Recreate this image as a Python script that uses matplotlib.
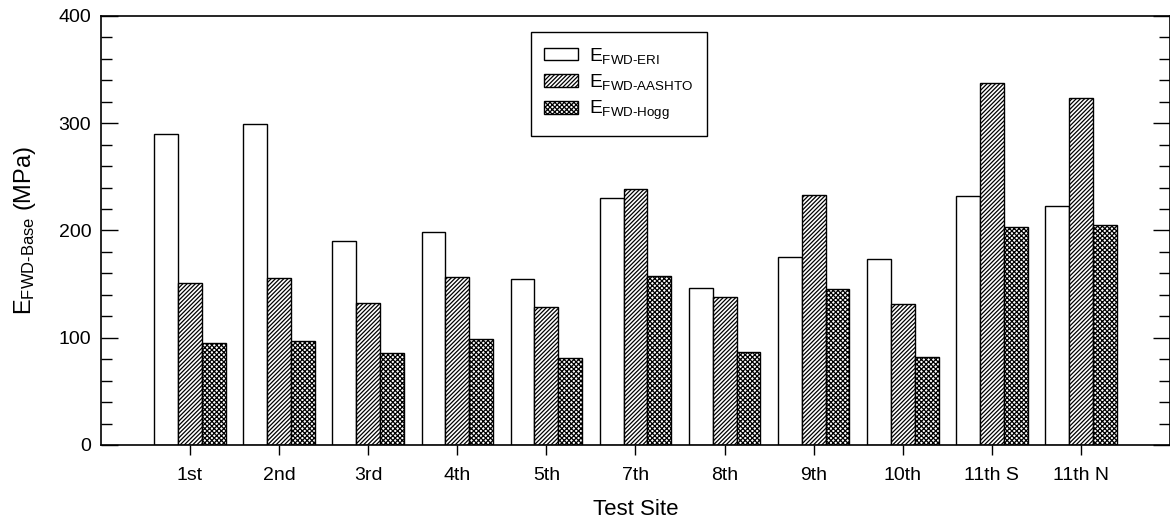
import matplotlib
matplotlib.use("Agg")
import matplotlib.pyplot as plt
from matplotlib.ticker import MultipleLocator
import numpy as np

plt.rcParams['font.family'] = ['Liberation Sans', 'DejaVu Sans']
plt.rcParams['mathtext.fontset'] = 'custom'
plt.rcParams['mathtext.rm'] = 'Liberation Sans'
plt.rcParams['mathtext.it'] = 'Liberation Sans'
plt.rcParams['hatch.linewidth'] = 0.9

# data
sites = ['1st', '2nd', '3rd', '4th', '5th', '7th', '8th', '9th', '10th', '11th S', '11th N']
e_eri = [289.7, 299.0, 190.2, 198.9, 154.8, 230.3, 146.1, 175.6, 173.1, 231.9, 222.5]
e_aashto = [150.8, 155.4, 132.1, 157.0, 128.7, 238.7, 138.0, 232.8, 131.2, 337.5, 323.2]
e_hogg = [94.8, 97.3, 86.1, 98.5, 81.4, 157.6, 86.7, 145.7, 82.3, 203.3, 204.8]

labels = [r'E$_{\text{FWD-ERI}}$', r'E$_{\text{FWD-AASHTO}}$', r'E$_{\text{FWD-Hogg}}$']


def main():
    fig = plt.figure(figsize=(11.7, 5.29), dpi=100)
    ax = fig.add_axes([0.0863, 0.1588, 0.9137, 0.811])

    x = np.arange(1, len(sites) + 1)
    w = 0.268
    ax.bar(x - w, e_eri, w, color='white', edgecolor='black', linewidth=1.0, label=labels[0])
    ax.bar(x, e_aashto, w, color='white', edgecolor='black', linewidth=1.0,
           hatch='////////', label=labels[1])
    ax.bar(x + w, e_hogg, w, color='white', edgecolor='black', linewidth=1.0,
           hatch='xxxxxxx', label=labels[2])

    ax.set_xlim(0, 12)
    ax.set_ylim(0, 400)
    ax.set_xticks(x)
    ax.set_xticklabels(sites, fontsize=14)
    ax.yaxis.set_major_locator(MultipleLocator(100))
    ax.yaxis.set_minor_locator(MultipleLocator(20))
    ax.tick_params(axis='y', which='major', direction='in', length=12, labelsize=14,
                   right=True, width=1.0, pad=7)
    ax.tick_params(axis='y', which='minor', direction='in', length=8, right=True, width=1.0)
    ax.tick_params(axis='x', which='major', direction='out', length=7, pad=9, width=1.0)

    for s in ax.spines.values():
        s.set_linewidth(1.2)

    ax.set_xlabel('Test Site', fontsize=16, labelpad=11)
    ax.set_ylabel(r'E$_{\text{FWD-Base}}$ (MPa)', fontsize=17, labelpad=15)

    leg = ax.legend(loc='upper left', bbox_to_anchor=(0.402, 0.962), fontsize=13.8,
                    fancybox=False, edgecolor='black', framealpha=1,
                    handlelength=1.75, handleheight=0.65, handletextpad=0.6,
                    borderpad=0.7, labelspacing=0.35, borderaxespad=0)
    leg.get_frame().set_linewidth(1.0)

    fig.savefig('out.png', dpi=100)


if __name__ == '__main__':
    main()
